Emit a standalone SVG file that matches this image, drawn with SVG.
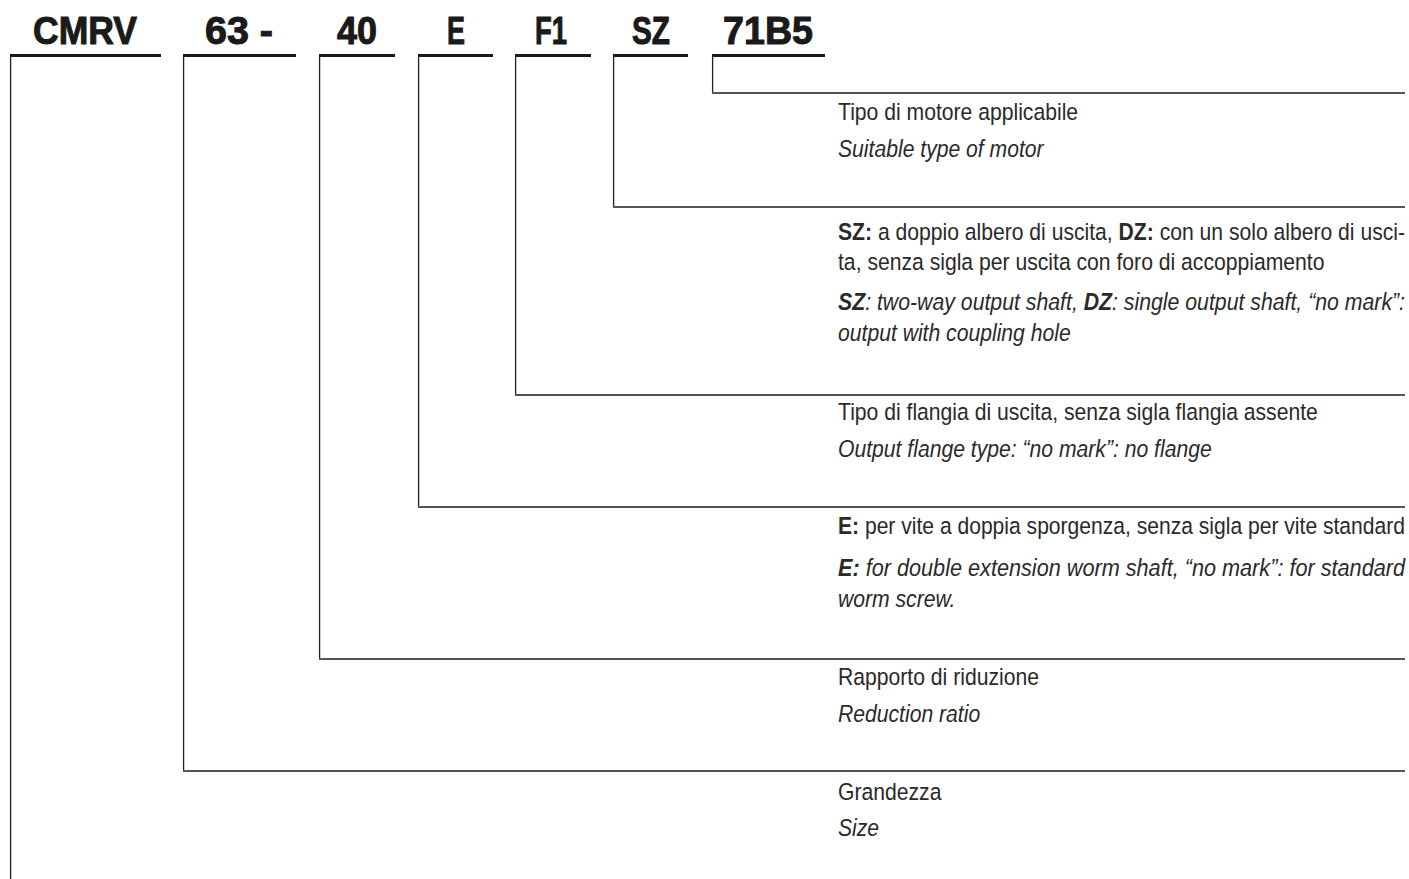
<svg xmlns="http://www.w3.org/2000/svg" width="1409" height="879" viewBox="0 0 1409 879">
<style>
.code{font-family:"Liberation Sans",Arial,sans-serif;font-weight:bold;font-size:38px;fill:#1a1a1a;stroke:#1a1a1a;stroke-width:1}
.bar{stroke:#1a1a1a;stroke-width:3;fill:none}
.v{stroke:#222;stroke-width:1.3;fill:none}
.h{stroke:#555;stroke-width:2;fill:none}
.t{font-family:"Liberation Sans",Arial,sans-serif;font-size:23.5px;fill:#2a2a2a}
.i{font-style:italic}
.b{font-weight:bold}
</style>
<rect width="1409" height="879" fill="#fff"/>
<g id="header">
<g id="code-cmrv"><text class="code" x="33" y="44" textLength="104" lengthAdjust="spacingAndGlyphs">CMRV</text><line class="bar" x1="10" y1="55.5" x2="161" y2="55.5"/></g>
<g id="code-63"><text class="code" x="205" y="44" textLength="68" lengthAdjust="spacingAndGlyphs">63 -</text><line class="bar" x1="183" y1="55.5" x2="296" y2="55.5"/></g>
<g id="code-40"><text class="code" x="337" y="44" textLength="40" lengthAdjust="spacingAndGlyphs">40</text><line class="bar" x1="319" y1="55.5" x2="395" y2="55.5"/></g>
<g id="code-e"><text class="code" x="447" y="44" textLength="18" lengthAdjust="spacingAndGlyphs">E</text><line class="bar" x1="418" y1="55.5" x2="493" y2="55.5"/></g>
<g id="code-f1"><text class="code" x="535" y="44" textLength="32" lengthAdjust="spacingAndGlyphs">F1</text><line class="bar" x1="515" y1="55.5" x2="591" y2="55.5"/></g>
<g id="code-sz"><text class="code" x="632" y="44" textLength="38" lengthAdjust="spacingAndGlyphs">SZ</text><line class="bar" x1="613" y1="55.5" x2="688" y2="55.5"/></g>
<g id="code-71b5"><text class="code" x="723" y="44" textLength="90" lengthAdjust="spacingAndGlyphs">71B5</text><line class="bar" x1="712" y1="55.5" x2="825" y2="55.5"/></g>
</g>
<g id="connectors">
<path class="v" d="M10.6 57 V879"/>
<path class="v" d="M183.6 57 V771"/><path class="h" d="M183 771 H1405"/>
<path class="v" d="M319.6 57 V659"/><path class="h" d="M319 659 H1405"/>
<path class="v" d="M418.6 57 V507"/><path class="h" d="M418 507 H1405"/>
<path class="v" d="M515.6 57 V395"/><path class="h" d="M515 395 H1405"/>
<path class="v" d="M613.6 57 V207"/><path class="h" d="M613 207 H1405"/>
<path class="v" d="M712.6 57 V93"/><path class="h" d="M712 93 H1405"/>
</g>
<g transform="translate(838,0) scale(0.9,1)">
<g id="desc-motor">
<text class="t" x="0" y="120">Tipo di motore applicabile</text>
<text class="t i" x="0" y="157">Suitable type of motor</text>
</g>
<g id="desc-shaft">
<text class="t" x="0" y="240" textLength="630" lengthAdjust="spacingAndGlyphs"><tspan class="b">SZ:</tspan> a doppio albero di uscita, <tspan class="b">DZ:</tspan> con un solo albero di usci-</text>
<text class="t" x="0" y="270">ta, senza sigla per uscita con foro di accoppiamento</text>
<text class="t i" x="0" y="310" textLength="630" lengthAdjust="spacingAndGlyphs"><tspan class="b">SZ</tspan>: two-way output shaft, <tspan class="b">DZ</tspan>: single output shaft, “no mark”:</text>
<text class="t i" x="0" y="341">output with coupling hole</text>
</g>
<g id="desc-flange">
<text class="t" x="0" y="420">Tipo di flangia di uscita, senza sigla flangia assente</text>
<text class="t i" x="0" y="457">Output flange type: “no mark”: no flange</text>
</g>
<g id="desc-worm">
<text class="t" x="0" y="534" textLength="630" lengthAdjust="spacingAndGlyphs"><tspan class="b">E:</tspan> per vite a doppia sporgenza, senza sigla per vite standard</text>
<text class="t i" x="0" y="576" textLength="630" lengthAdjust="spacingAndGlyphs"><tspan class="b">E:</tspan> for double extension worm shaft, “no mark”: for standard</text>
<text class="t i" x="0" y="607">worm screw.</text>
</g>
<g id="desc-ratio">
<text class="t" x="0" y="685">Rapporto di riduzione</text>
<text class="t i" x="0" y="722">Reduction ratio</text>
</g>
<g id="desc-size">
<text class="t" x="0" y="800">Grandezza</text>
<text class="t i" x="0" y="836">Size</text>
</g>
</g>
</svg>
